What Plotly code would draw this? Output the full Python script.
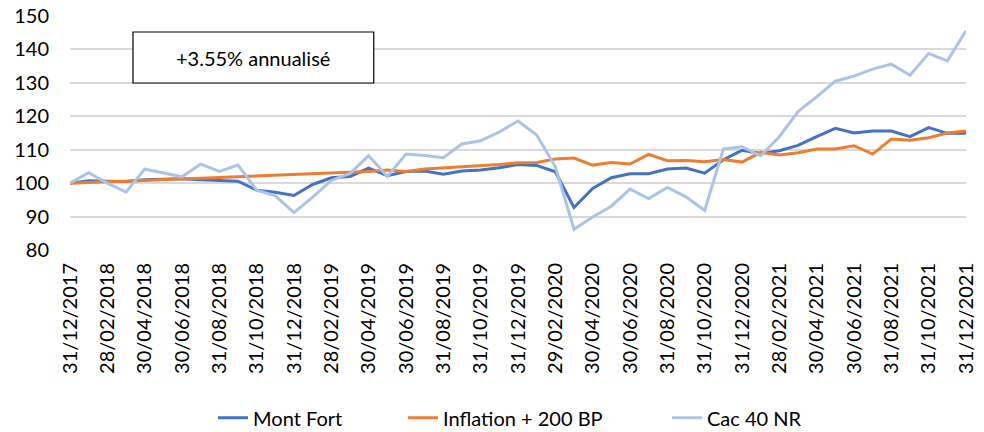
import plotly.graph_objects as go

months = [
    "31/12/2017", "31/01/2018", "28/02/2018", "31/03/2018", "30/04/2018", "31/05/2018",
    "30/06/2018", "31/07/2018", "31/08/2018", "30/09/2018", "31/10/2018", "30/11/2018",
    "31/12/2018", "31/01/2019", "28/02/2019", "31/03/2019", "30/04/2019", "31/05/2019",
    "30/06/2019", "31/07/2019", "31/08/2019", "30/09/2019", "31/10/2019", "30/11/2019",
    "31/12/2019", "31/01/2020", "29/02/2020", "31/03/2020", "30/04/2020", "31/05/2020",
    "30/06/2020", "31/07/2020", "31/08/2020", "30/09/2020", "31/10/2020", "30/11/2020",
    "31/12/2020", "31/01/2021", "28/02/2021", "31/03/2021", "30/04/2021", "31/05/2021",
    "30/06/2021", "31/07/2021", "31/08/2021", "30/09/2021", "31/10/2021", "30/11/2021",
    "31/12/2021",
]

tick_labels = [
    "31/12/2017", "28/02/2018", "30/04/2018", "30/06/2018", "31/08/2018", "31/10/2018",
    "31/12/2018", "28/02/2019", "30/04/2019", "30/06/2019", "31/08/2019", "31/10/2019",
    "31/12/2019", "29/02/2020", "30/04/2020", "30/06/2020", "31/08/2020", "31/10/2020",
    "31/12/2020", "28/02/2021", "30/04/2021", "30/06/2021", "31/08/2021", "31/10/2021",
    "31/12/2021",
]

mont_fort = [
    100.0, 100.7, 100.6, 100.5, 101.0, 101.2, 101.3, 101.0, 100.8, 100.6,
    97.9, 97.3, 96.3, 99.6, 101.6, 102.0, 104.5, 102.2, 103.5, 103.6,
    102.7, 103.6, 103.9, 104.6, 105.6, 105.3, 103.4, 92.7, 98.4, 101.6,
    102.8, 102.8, 104.2, 104.5, 103.0, 107.0, 109.8, 108.9, 109.7, 111.3,
    113.9, 116.4, 115.0, 115.6, 115.6, 113.9, 116.6, 114.9, 114.9,
]

inflation = [
    100.0, 100.3, 100.4, 100.6, 100.9, 101.1, 101.3, 101.5, 101.7, 101.9,
    102.1, 102.3, 102.5, 102.7, 102.9, 103.1, 103.5, 103.9, 103.5, 104.2,
    104.5, 104.8, 105.1, 105.6, 106.1, 106.2, 107.2, 107.5, 105.4, 106.2,
    105.7, 108.6, 106.7, 106.8, 106.4, 107.1, 106.3, 109.2, 108.4, 109.1,
    110.2, 110.2, 111.2, 108.7, 113.2, 112.8, 113.6, 115.0, 115.6,
]

cac40 = [
    100.0, 103.1, 100.0, 97.3, 104.2, 103.1, 101.9, 105.7, 103.5, 105.4,
    97.9, 96.2, 91.2, 95.8, 100.8, 102.9, 108.2, 102.0, 108.7, 108.3,
    107.6, 111.7, 112.7, 115.3, 118.6, 114.4, 104.9, 86.2, 89.9, 93.1,
    98.2, 95.4, 98.7, 95.9, 91.8, 110.2, 110.9, 108.2, 113.9, 121.4,
    125.8, 130.5, 132.0, 134.1, 135.6, 132.3, 138.8, 136.6, 145.6,
]

series_names = ["Mont Fort", "Inflation + 200 BP", "Cac 40 NR"]
series_colors = ["#4472C4", "#ED7D31", "#A9C4E6"]
annotation_text = "+3.55% annualisé"

FONT = "Lato"
legend_ids = ["legend", "legend2", "legend3"]
legend_x = [0.2165, 0.4096, 0.6778]  # container fractions, left edges

fig = go.Figure()
for name, vals, col, lid in zip(series_names, [mont_fort, inflation, cac40], series_colors, legend_ids):
    fig.add_trace(go.Scatter(
        x=months, y=vals, name=name, mode="lines",
        line=dict(color=col, width=3), legend=lid,
    ))

def leg(xpos):
    return dict(
        orientation="h", xref="container", yref="container",
        x=xpos, xanchor="left", y=0.033, yanchor="middle",
        font=dict(family=FONT, size=20, color="#000000"),
        bgcolor="rgba(0,0,0,0)",
    )

fig.update_layout(
    width=984, height=432,
    margin=dict(l=70, r=18, t=16, b=182, autoexpand=False),
    paper_bgcolor="white", plot_bgcolor="white",
    font=dict(family=FONT, size=20, color="#000000"),
    showlegend=True,
    legend=leg(legend_x[0]),
    legend2=leg(legend_x[1]),
    legend3=leg(legend_x[2]),
    xaxis=dict(
        type="category", categoryorder="array", categoryarray=months,
        range=[0, len(months) - 1], automargin=False,
        tickmode="array", tickvals=tick_labels, ticktext=tick_labels,
        tickangle=-90, showgrid=False, zeroline=False, showline=False,
        ticks="", ticklabelstandoff=8,
        tickfont=dict(family=FONT, size=20, color="#000000"),
    ),
    yaxis=dict(
        range=[80, 150], dtick=10, tick0=80, automargin=False,
        showgrid=True, gridcolor="#D9D9D9", gridwidth=1.5,
        zeroline=False, showline=False, ticks="", ticklabelstandoff=20,
        tickfont=dict(family=FONT, size=20, color="#000000"),
    ),
)

fig.add_shape(
    type="rect", xref="paper", yref="paper",
    x0=0.0703, x1=0.339, y0=0.7137, y1=0.9316,
    line=dict(color="#000000", width=1.2), fillcolor="white", layer="above",
)
fig.add_annotation(
    xref="paper", yref="paper", x=0.2047, y=0.8226,
    text=annotation_text, showarrow=False,
    font=dict(family=FONT, size=20, color="#000000"),
    xanchor="center", yanchor="middle",
)

fig.write_html(
    "out.html",
    config={"displayModeBar": False},
    post_script="document.body.style.margin='0';document.body.style.overflow='hidden';",
)
